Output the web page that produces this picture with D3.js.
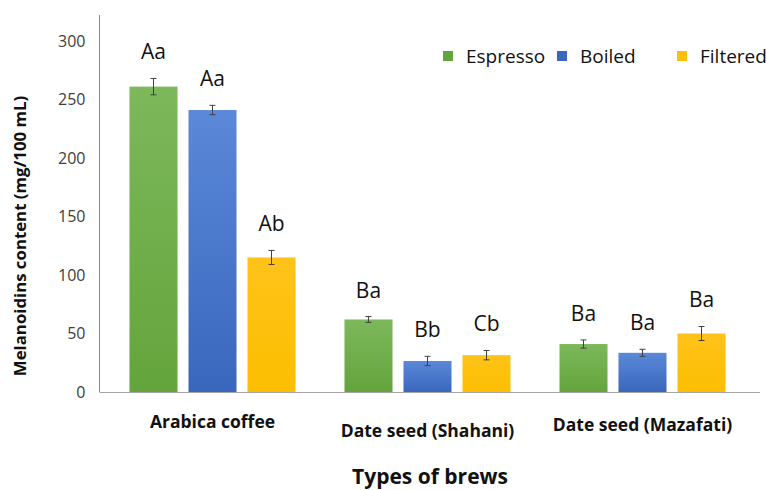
<!DOCTYPE html>
<html>
<head>
<meta charset="utf-8">
<script src="https://cdn.jsdelivr.net/npm/d3@7"></script>
<style>
  html, body { margin: 0; padding: 0; background: #fff; }
  svg { display: block; font-family: "Open Sans", "Noto Sans", sans-serif; }
</style>
</head>
<body>
<svg id="chart" width="766" height="490"></svg>
<script>
// Melanoidin content by brew type and brewing method
const categories = ["Arabica coffee", "Date seed (Shahani)", "Date seed (Mazafati)"];
const methods = ["Espresso", "Boiled", "Filtered"];
const espresso = [261, 62, 41];
const boiled = [241, 26.5, 33.5];
const filtered = [115, 31.5, 50];
const espressoErr = [7, 2.5, 3.5];
const boiledErr = [4, 4, 3];
const filteredErr = [6, 4, 6];
const espressoLetters = ["Aa", "Ba", "Ba"];
const boiledLetters = ["Aa", "Bb", "Ba"];
const filteredLetters = ["Ab", "Cb", "Ba"];
const yTicks = [0, 50, 100, 150, 200, 250, 300];
const categoryLabelDy = [0, 9, 3];

const seriesValues = [espresso, boiled, filtered];
const seriesErr = [espressoErr, boiledErr, filteredErr];
const seriesLetters = [espressoLetters, boiledLetters, filteredLetters];
const colors = {
  Espresso: ["#7db85b", "#64a43c"],
  Boiled: ["#5b88d8", "#3867bd"],
  Filtered: ["#ffc21a", "#fcbf00"]
};

const svg = d3.select("#chart");
const axisX = 99.5;
const x0 = 105, x1 = 750;

const y = d3.scaleLinear().domain([0, 300]).range([392, 41]);
const xCat = d3.scaleBand().domain(categories).range([x0, x1]).paddingInner(0).paddingOuter(0);
const xSub = d3.scaleBand().domain(methods).range([0, xCat.bandwidth()]).paddingInner(0.186).paddingOuter(0.415);

// gradient fills for the bars
const defs = svg.append("defs");
methods.forEach(m => {
  const g = defs.append("linearGradient").attr("id", "grad-" + m)
    .attr("x1", 0).attr("y1", 0).attr("x2", 0).attr("y2", 1);
  g.append("stop").attr("offset", "0%").attr("stop-color", colors[m][0]);
  g.append("stop").attr("offset", "100%").attr("stop-color", colors[m][1]);
});

// y axis
const yAxis = d3.axisLeft(y).tickValues(yTicks).tickSize(0).tickPadding(14);
const gy = svg.append("g").attr("transform", `translate(${axisX},0)`).call(yAxis);
gy.select(".domain").remove();
gy.selectAll("text").attr("font-size", 16).attr("fill", "#404040")
  .attr("font-family", "'Open Sans', sans-serif");
svg.append("line").attr("x1", axisX).attr("x2", axisX)
  .attr("y1", 15).attr("y2", y(0)).attr("stroke", "#8c8c8c").attr("stroke-width", 1);

// bars
const data = [];
categories.forEach((c, i) => {
  methods.forEach((m, j) => {
    data.push({ cat: c, method: m, value: seriesValues[j][i], err: seriesErr[j][i], letter: seriesLetters[j][i] });
  });
});

const bars = svg.append("g");
bars.selectAll("rect").data(data).join("rect")
  .attr("x", d => xCat(d.cat) + xSub(d.method))
  .attr("y", d => y(d.value))
  .attr("width", xSub.bandwidth())
  .attr("height", d => y(0) - y(d.value))
  .attr("fill", d => `url(#grad-${d.method})`);

// baseline
svg.append("line").attr("x1", axisX).attr("x2", 760)
  .attr("y1", y(0) + 0.5).attr("y2", y(0) + 0.5)
  .attr("stroke", "#a6a6a6").attr("stroke-width", 1.2);

// error bars
const eb = svg.append("g").attr("stroke", "#404040").attr("stroke-width", 1);
data.forEach(d => {
  const cx = xCat(d.cat) + xSub(d.method) + xSub.bandwidth() / 2;
  eb.append("line").attr("x1", cx).attr("x2", cx).attr("y1", y(d.value + d.err)).attr("y2", y(d.value - d.err));
  eb.append("line").attr("x1", cx - 3).attr("x2", cx + 3).attr("y1", y(d.value + d.err)).attr("y2", y(d.value + d.err));
  eb.append("line").attr("x1", cx - 3).attr("x2", cx + 3).attr("y1", y(d.value - d.err)).attr("y2", y(d.value - d.err));
});

// significance letters
svg.append("g").selectAll("text").data(data).join("text")
  .attr("x", d => xCat(d.cat) + xSub(d.method) + xSub.bandwidth() / 2)
  .attr("y", d => y(d.value + d.err) - 19)
  .attr("text-anchor", "middle")
  .attr("font-size", 21)
  .attr("fill", "#111")
  .text(d => d.letter);

// category labels
svg.append("g").selectAll("text").data(categories).join("text")
  .attr("x", d => xCat(d) + xCat.bandwidth() / 2)
  .attr("y", (d, i) => 428 + categoryLabelDy[i])
  .attr("text-anchor", "middle")
  .attr("font-size", 17.5)
  .attr("font-weight", "bold")
  .attr("fill", "#111")
  .text(d => d);

// axis titles
svg.append("text").attr("x", 430).attr("y", 484)
  .attr("text-anchor", "middle").attr("font-size", 21).attr("font-weight", "bold").attr("fill", "#111")
  .text("Types of brews");
svg.append("text").attr("transform", "translate(26,236) rotate(-90)")
  .attr("text-anchor", "middle").attr("font-size", 16.8).attr("font-weight", "bold").attr("fill", "#111")
  .text("Melanoidins content (mg/100 mL)");

// legend
const legendX = [443, 557, 677];
const lg = svg.append("g");
methods.forEach((m, i) => {
  lg.append("rect").attr("x", legendX[i]).attr("y", 51).attr("width", 10).attr("height", 10)
    .attr("fill", colors[m][1]);
  lg.append("text").attr("x", legendX[i] + 23).attr("y", 63)
    .attr("font-size", 19).attr("fill", "#111").text(m);
});
</script>
</body>
</html>
